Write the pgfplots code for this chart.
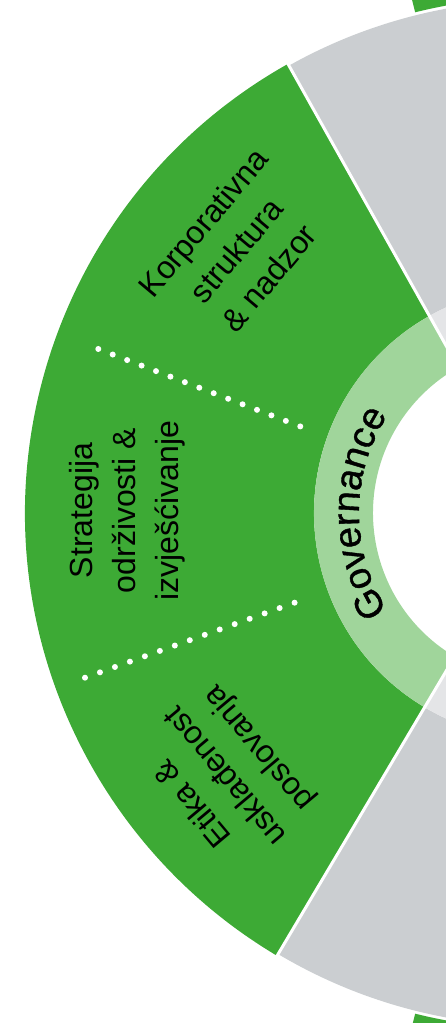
\documentclass[border=0pt]{standalone}
\usepackage{fontspec}
\setmainfont{Liberation Sans}
\newfontfamily\gfont[FakeBold=1]{Liberation Sans}
\usepackage{pgfplots}
\pgfplotsset{compat=1.18}
\usetikzlibrary{decorations.text}

\definecolor{gdark}{HTML}{3DAA35}
\definecolor{glight}{HTML}{A0D59B}
\definecolor{grayout}{HTML}{CBCED1}
\definecolor{grayin}{HTML}{E4E5E7}

\newcommand{\lab}{\fontsize{32bp}{43bp}\selectfont}
\newcommand{\gstyle}{\gfont\fontsize{38bp}{38bp}\selectfont}

% ring sector around the centre (540,510): start, end, inner r, outer r, colour
\newcommand{\sector}[5]{%
  \fill[#5] ([shift={(#1:#4bp)}]axis cs:540,510) arc[start angle=#1, end angle=#2, radius=#4bp]
    -- ([shift={(#2:#3bp)}]axis cs:540,510) arc[start angle=#2, end angle=#1, radius=#3bp] -- cycle;}
% white gap between sectors: angle, from r, to r
\newcommand{\gap}[3]{%
  \draw[white, line width=3bp] ([shift={(#1:#2bp)}]axis cs:540,510) -- ([shift={(#1:#3bp)}]axis cs:540,510);}

\begin{document}
\begin{tikzpicture}
\begin{axis}[
  x=1bp, y=1bp,
  xmin=0, xmax=446, ymin=0, ymax=1023,
  enlargelimits=false,
  hide axis,
]
% outer ring
\sector{-120.7}{119.3}{226}{513}{grayout}
\sector{119.3}{239.3}{226}{515}{gdark}
% inner ring
\sector{-120.7}{119.3}{167}{226}{grayin}
\sector{119.3}{239.3}{167}{226}{glight}
% next ring out, right side
\sector{-104}{104}{516}{800}{gdark}
\gap{119.3}{160}{525}
\gap{239.3}{160}{525}

% dotted dividers in the Governance sector
\addplot[white, line width=6bp, line cap=round, dash pattern=on 0bp off 15.45bp]
  coordinates {(98.3,674) (301,596.3)};
\addplot[white, line width=6bp, line cap=round, dash pattern=on 0bp off 15.9bp]
  coordinates {(85,345.3) (295.7,420.7)};

\node[rotate=50, align=center, font=\lab] at (axis cs:236,773)
  {Korporativna\\struktura\\\& nadzor};
\node[rotate=90, align=center, font=\lab] at (axis cs:127,512.5)
  {Strategija\\održivosti \&\\izvješćivanje};
\node[rotate=130, align=center, font=\lab] at (axis cs:226.7,248)
  {Etika \&\\usklađenost\\poslovanja};

\path[decorate, decoration={text along path, text align=center,
    text={|\gstyle|Governance}}]
  ([shift={(220:181bp)}]axis cs:540,510) arc[start angle=220, end angle=140, radius=181bp];
\end{axis}
\pgfresetboundingbox
\path[use as bounding box] (current axis.south west) rectangle (current axis.north east);
\end{tikzpicture}
\end{document}
